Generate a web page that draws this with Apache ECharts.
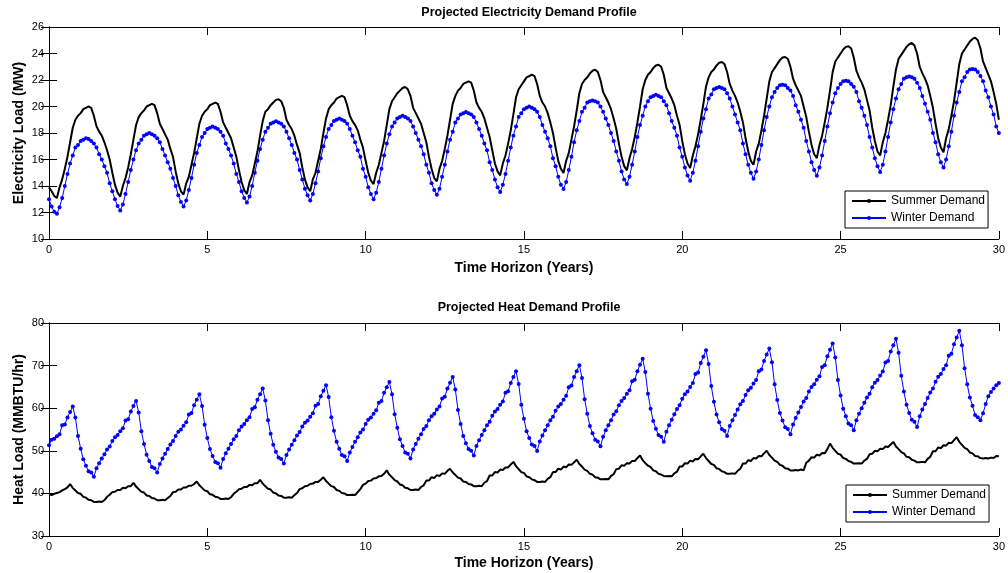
<!DOCTYPE html>
<html>
<head>
<meta charset="utf-8">
<script src="https://cdn.jsdelivr.net/npm/echarts@6/dist/echarts.min.js"></script>
<style>
html,body{margin:0;padding:0;background:#fff;}
#chart{width:1008px;height:573px;}
</style>
</head>
<body>
<div id="chart"></div>
<script>
// Monthly samples, 0 .. 30 years (361 points each)
const monthsPerYear = 12;

const elecSummer = [
13.9,13.6,13.25,
13.1,13.9,14.5,15.3,16.2,17.3,18.4,19.0,19.3,19.5,19.8,19.9,20.0,19.9,19.3,18.5,18.1,17.8,17.3,16.7,16.0,15.0,14.1,13.5,
13.2,14.0,14.6,15.4,16.4,17.5,18.6,19.2,19.5,19.7,20.0,20.1,20.2,20.1,19.5,18.7,18.3,17.9,17.5,16.8,16.2,15.1,14.2,13.6,
13.35,14.2,14.7,15.6,16.5,17.6,18.7,19.3,19.6,19.8,20.1,20.2,20.3,20.2,19.6,18.8,18.4,18.0,17.6,16.9,16.2,15.2,14.3,13.7,
13.4,14.3,14.8,15.7,16.6,17.8,18.9,19.6,19.8,20.1,20.3,20.5,20.55,20.4,19.9,19.0,18.6,18.3,17.8,17.1,16.5,15.4,14.5,13.9,
13.6,14.5,15.0,15.9,16.8,18.0,19.1,19.8,20.1,20.3,20.6,20.7,20.8,20.7,20.1,19.3,18.9,18.6,18.2,17.5,16.9,15.9,15.0,14.4,
14.15,15.0,15.6,16.5,17.4,18.6,19.8,20.4,20.7,21.0,21.2,21.4,21.47,21.3,20.8,19.9,19.5,19.1,18.7,18.0,17.3,16.2,15.3,14.6,
14.35,15.3,15.9,16.8,17.8,19.0,20.2,20.8,21.2,21.4,21.7,21.8,21.9,21.8,21.2,20.3,19.9,19.6,19.1,18.4,17.7,16.7,15.7,15.1,
14.8,15.7,16.3,17.2,18.2,19.4,20.7,21.3,21.6,21.9,22.2,22.3,22.4,22.3,21.7,20.8,20.3,20.0,19.5,18.8,18.0,16.9,15.9,15.3,
14.98,15.9,16.5,17.5,18.5,19.7,21.0,21.7,22.0,22.2,22.5,22.7,22.78,22.6,22.0,21.1,20.7,20.3,19.8,19.1,18.3,17.2,16.2,15.5,
15.18,16.1,16.8,17.7,18.8,20.0,21.3,22.0,22.4,22.6,22.9,23.1,23.15,23.0,22.4,21.4,21.0,20.6,20.1,19.3,18.6,17.4,16.4,15.7,
15.36,16.3,17.0,17.9,19.0,20.2,21.5,22.2,22.6,22.8,23.1,23.3,23.36,23.2,22.6,21.7,21.2,20.8,20.3,19.6,18.8,17.6,16.6,15.9,
15.6,16.6,17.2,18.2,19.3,20.6,21.9,22.6,22.9,23.2,23.5,23.7,23.74,23.6,23.0,22.1,21.6,21.2,20.8,20.0,19.2,18.1,17.1,16.4,
16.1,17.1,17.8,18.8,19.9,21.2,22.6,23.4,23.7,24.0,24.3,24.5,24.54,24.4,23.7,22.7,22.2,21.8,21.3,20.5,19.7,18.4,17.4,16.6,
16.3,17.3,18.0,19.0,20.1,21.5,22.8,23.6,23.9,24.2,24.5,24.7,24.79,24.6,24.0,23.0,22.5,22.1,21.6,20.8,19.9,18.7,17.6,16.9,
16.54,17.6,18.3,19.3,20.4,21.8,23.2,24.0,24.3,24.6,24.9,25.1,25.2,25.0,24.4,23.4,22.9,22.4,21.9,21.1,20.2,19.0
];

const elecWinter = [
13.0,12.45,12.05,
11.9,12.4,13.1,14.0,14.9,15.7,16.3,16.9,17.1,17.4,17.5,17.6,17.55,17.4,17.2,16.9,16.4,16.0,15.5,15.0,14.2,13.6,13.0,12.5,
12.15,12.6,13.4,14.3,15.2,16.0,16.7,17.2,17.5,17.8,17.9,18.0,17.9,17.8,17.6,17.3,16.8,16.3,15.8,15.3,14.6,14.0,13.3,12.8,
12.46,12.9,13.7,14.6,15.6,16.5,17.1,17.7,18.0,18.3,18.4,18.5,18.4,18.3,18.1,17.8,17.2,16.8,16.3,15.7,14.9,14.3,13.6,13.1,
12.76,13.2,14.0,15.0,15.9,16.8,17.5,18.1,18.4,18.7,18.8,18.88,18.8,18.7,18.5,18.1,17.6,17.1,16.5,16.0,15.2,14.5,13.8,13.3,
12.9,13.4,14.2,15.1,16.1,17.0,17.7,18.3,18.6,18.9,19.0,19.1,19.0,18.9,18.7,18.3,17.8,17.3,16.7,16.2,15.3,14.7,13.9,13.4,
13.0,13.5,14.3,15.3,16.3,17.2,17.9,18.5,18.8,19.1,19.2,19.3,19.2,19.1,18.9,18.5,18.0,17.5,17.0,16.4,15.6,15.0,14.2,13.7,
13.34,13.8,14.7,15.6,16.6,17.5,18.1,18.8,19.1,19.4,19.5,19.58,19.5,19.4,19.2,18.8,18.3,17.8,17.2,16.7,15.8,15.2,14.5,13.9,
13.55,14.1,14.9,15.9,16.9,17.8,18.5,19.2,19.5,19.8,19.9,20.0,19.9,19.8,19.6,19.2,18.6,18.1,17.6,17.0,16.1,15.5,14.7,14.1,
13.77,14.3,15.2,16.2,17.3,18.2,18.9,19.6,19.9,20.3,20.4,20.46,20.4,20.3,20.0,19.6,19.1,18.6,18.0,17.4,16.6,15.9,15.1,14.5,
14.15,14.7,15.6,16.6,17.7,18.6,19.3,20.0,20.4,20.7,20.8,20.89,20.8,20.7,20.4,20.1,19.5,18.9,18.4,17.8,16.9,16.2,15.4,14.8,
14.4,15.0,15.9,17.0,18.1,19.1,19.8,20.6,20.9,21.3,21.4,21.47,21.4,21.3,21.0,20.6,20.0,19.4,18.8,18.2,17.2,16.4,15.6,15.0,
14.55,15.1,16.0,17.1,18.2,19.2,20.0,20.7,21.1,21.4,21.6,21.64,21.6,21.4,21.2,20.8,20.1,19.6,19.0,18.4,17.4,16.6,15.8,15.2,
14.78,15.4,16.3,17.4,18.5,19.5,20.3,21.0,21.4,21.7,21.9,21.95,21.9,21.7,21.5,21.1,20.4,19.9,19.3,18.6,17.7,16.9,16.1,15.5,
15.06,15.6,16.6,17.7,18.8,19.8,20.6,21.3,21.7,22.1,22.2,22.27,22.2,22.1,21.8,21.4,20.8,20.2,19.6,19.0,18.0,17.3,16.4,15.8,
15.4,16.0,17.0,18.1,19.3,20.3,21.1,21.9,22.2,22.6,22.8,22.83,22.8,22.6,22.3,21.9,21.2,20.7,20.0,19.4,18.5,18.0
];

const heatSummer = [
39.8,39.6,39.9,40.1,40.3,40.7,41.0,41.4,
42.2,41.3,40.7,40.1,39.9,39.2,39.0,38.5,38.4,38.0,38.0,38.1,38.0,38.4,39.2,39.7,40.3,40.4,40.8,40.8,41.3,41.2,41.7,41.7,
42.5,41.6,41.0,40.4,40.2,39.5,39.4,38.9,38.8,38.4,38.4,38.5,38.4,38.9,39.4,40.3,40.4,40.9,40.9,41.4,41.4,41.8,41.8,42.2,
42.8,41.9,41.3,40.7,40.5,39.8,39.7,39.2,39.1,38.7,38.7,38.8,38.7,39.1,39.9,40.4,41.0,41.1,41.5,41.5,42.0,41.9,42.4,42.4,
43.2,42.3,41.7,41.1,40.9,40.2,40.0,39.5,39.4,39.0,39.0,39.1,39.0,39.6,40.1,41.0,41.2,41.7,41.8,42.2,42.3,42.7,42.7,43.2,
43.8,42.9,42.3,41.7,41.5,40.8,40.6,40.1,40.0,39.6,39.6,39.7,39.6,40.3,41.0,42.0,42.3,42.9,43.0,43.5,43.6,44.0,44.1,44.6,
45.4,44.4,43.8,43.1,42.8,42.1,41.9,41.3,41.2,40.8,40.8,40.9,40.8,41.5,41.9,43.0,43.0,43.8,43.6,44.3,44.1,44.7,44.6,45.3,
45.8,44.9,44.3,43.7,43.5,42.8,42.7,42.2,42.1,41.7,41.7,41.8,41.7,42.5,42.9,44.2,44.2,45.0,44.9,45.6,45.5,46.1,46.1,46.8,
47.4,46.4,45.7,45.0,44.8,44.0,43.8,43.3,43.1,42.7,42.7,42.8,42.7,43.4,43.8,45.0,45.0,45.8,45.6,46.3,46.1,46.8,46.7,47.3,
47.9,46.9,46.3,45.6,45.3,44.6,44.4,43.8,43.7,43.3,43.3,43.4,43.3,44.1,44.5,45.7,45.8,46.6,46.5,47.1,47.0,47.6,47.6,48.3,
48.9,47.8,47.1,46.5,46.2,45.4,45.2,44.6,44.4,44.1,44.0,44.1,44.0,44.7,45.1,46.3,46.3,47.1,47.0,47.7,47.5,48.1,48.0,48.7,
49.3,48.3,47.6,46.9,46.7,45.9,45.7,45.2,45.0,44.6,44.6,44.7,44.6,45.3,45.8,47.0,47.0,47.8,47.6,48.3,48.2,48.8,48.7,49.4,
50.0,49.0,48.4,47.7,47.4,46.7,46.5,45.9,45.8,45.4,45.4,45.5,45.4,45.6,45.4,47.2,47.7,48.5,48.4,49.1,48.9,49.5,49.4,50.4,
51.7,50.7,50.0,49.3,49.1,48.3,48.1,47.6,47.4,47.0,47.0,47.1,47.0,47.7,48.1,49.2,49.3,50.0,49.9,50.5,50.4,51.0,50.9,51.5,
52.1,51.0,50.4,49.7,49.4,48.6,48.5,47.9,47.7,47.3,47.3,47.4,47.3,48.1,48.6,49.9,49.9,50.8,50.6,51.3,51.2,51.9,51.8,52.5,
53.2,52.1,51.4,50.7,50.4,49.6,49.4,48.8,48.7,48.3,48.2,48.3,48.2,48.4,48.3,48.8,48.7
];

const heatWinter = [
51.3,52.6,52.8,53.4,53.9,56.0,56.2,57.8,59.1,
60.4,57.8,53.5,50.5,48.0,46.5,45.2,44.9,43.9,45.9,47.1,48.2,49.2,50.3,51.0,52.3,53.2,53.7,54.6,55.3,57.1,57.4,59.2,60.5,
61.7,59.0,54.6,51.6,49.1,47.6,46.2,45.9,44.9,46.9,48.2,49.3,50.4,51.5,52.3,53.5,54.5,55.0,55.9,56.7,58.5,58.9,60.7,62.0,
63.3,60.5,56.1,53.0,50.4,48.8,47.4,47.1,46.05,48.1,49.4,50.5,51.6,52.7,53.5,54.8,55.7,56.3,57.2,57.9,59.8,60.2,62.0,63.3,
64.6,61.8,57.2,54.0,51.4,49.8,48.4,48.1,47.0,49.0,50.3,51.4,52.5,53.6,54.4,55.7,56.6,57.1,58.0,58.8,60.6,61.0,62.8,64.1,
65.4,62.6,57.9,54.7,52.1,50.5,49.0,48.7,47.6,49.6,50.9,52.1,53.2,54.3,55.0,56.3,57.3,57.8,58.7,59.5,61.3,61.7,63.6,64.9,
66.15,63.3,58.6,55.4,52.7,51.1,49.6,49.3,48.2,50.3,51.6,52.8,53.9,55.1,55.8,57.2,58.1,58.7,59.7,60.4,62.3,62.7,64.6,66.0,
67.3,64.4,59.6,56.3,53.5,51.8,50.4,50.0,48.9,51.1,52.5,53.7,54.8,56.0,56.8,58.2,59.2,59.8,60.8,61.6,63.6,64.0,65.9,67.3,
68.7,65.7,60.8,57.5,54.6,53.0,51.5,51.1,49.95,52.2,53.6,54.8,56.0,57.2,58.0,59.4,60.4,61.0,62.0,62.9,64.9,65.3,67.3,68.7,
70.1,67.1,62.1,58.7,55.8,54.1,52.6,52.2,51.05,53.3,54.8,56.0,57.2,58.5,59.3,60.7,61.7,62.4,63.4,64.2,66.3,66.7,68.7,70.2,
71.6,68.5,63.4,59.9,57.0,55.2,53.7,53.3,52.1,54.5,56.0,57.3,58.6,59.8,60.7,62.2,63.3,63.9,65.0,65.9,68.0,68.4,70.6,72.1,
73.6,70.4,65.2,61.5,58.5,56.7,55.1,54.7,53.5,55.8,57.2,58.4,59.7,60.9,61.7,63.1,64.2,64.8,65.8,66.6,68.7,69.1,71.1,72.6,
74.0,70.8,65.6,61.9,58.9,57.1,55.5,55.1,53.9,56.2,57.7,59.0,60.3,61.6,62.4,63.9,65.0,65.6,66.7,67.5,69.7,70.1,72.2,73.7,
75.2,71.9,66.6,63.0,59.9,58.1,56.4,56.0,54.8,57.2,58.7,60.0,61.3,62.5,63.4,64.9,66.0,66.6,67.7,68.6,70.7,71.1,73.3,74.8,
76.3,73.0,67.6,63.9,60.8,58.9,57.3,56.8,55.6,58.1,59.7,61.0,62.4,63.7,64.6,66.2,67.4,68.0,69.2,70.1,72.3,72.8,75.0,76.6,
78.2,74.8,69.4,65.6,62.5,60.6,58.4,57.9,57.2,58.8,61.0,62.8,63.8,64.6,65.4,65.9
];

const xTicks = { min: 0, max: 30, interval: 5 };
const elecTicks = { min: 10, max: 26, interval: 2 };
const heatTicks = { min: 30, max: 80, interval: 10 };
const titles = ['Projected Electricity Demand Profile', 'Projected Heat Demand Profile'];
const xName = 'Time Horizon (Years)';
const yNames = ['Electricity Load (MW)', 'Heat Load (MMBTU/hr)'];
const seriesNames = ['Summer Demand', 'Winter Demand'];

function toXY(arr) { return arr.map((v, i) => [i / monthsPerYear, v]); }

const FONT = 'Liberation Sans, Arial, sans-serif';
const tickStyle = { inside: true, length: 8, lineStyle: { color: '#000', width: 1 } };
const lineStyleAx = { lineStyle: { color: '#000', width: 1 } };

function xAxes(g, gap) {
  return [
    { gridIndex: g, type: 'value', position: 'bottom', min: xTicks.min, max: xTicks.max, interval: xTicks.interval,
      axisLine: lineStyleAx, axisTick: tickStyle, splitLine: { show: false },
      axisLabel: { color: '#000', fontSize: 11, fontFamily: FONT, margin: 5 },
      name: xName, nameLocation: 'middle', nameGap: gap,
      nameTextStyle: { color: '#000', fontSize: 14, fontWeight: 'bold', fontFamily: FONT } },
    { gridIndex: g, type: 'value', position: 'top', min: xTicks.min, max: xTicks.max, interval: xTicks.interval,
      axisLine: lineStyleAx, axisTick: tickStyle, splitLine: { show: false }, axisLabel: { show: false } }
  ];
}
function yAxes(g, t, name) {
  return [
    { gridIndex: g, type: 'value', position: 'left', min: t.min, max: t.max, interval: t.interval,
      axisLine: lineStyleAx, axisTick: tickStyle, splitLine: { show: false },
      axisLabel: { color: '#000', fontSize: 11, fontFamily: FONT, margin: 5 },
      name: name, nameLocation: 'middle', nameGap: 23, nameRotate: 90, nameMoveOverlap: false,
      nameTextStyle: { color: '#000', fontSize: 14, fontWeight: 'bold', fontFamily: FONT } },
    { gridIndex: g, type: 'value', position: 'right', min: t.min, max: t.max, interval: t.interval,
      axisLine: lineStyleAx, axisTick: tickStyle, splitLine: { show: false }, axisLabel: { show: false } }
  ];
}

function summer(data, xi, yi) {
  return { name: seriesNames[0], type: 'line', xAxisIndex: xi, yAxisIndex: yi, data: toXY(data),
    symbol: 'none', lineStyle: { color: '#000', width: 2 }, itemStyle: { color: '#000' }, animation: false, z: 3 };
}
function winter(data, xi, yi) {
  return { name: seriesNames[1], type: 'line', xAxisIndex: xi, yAxisIndex: yi, data: toXY(data),
    symbol: 'circle', symbolSize: 4, showAllSymbol: true,
    lineStyle: { color: '#0000ff', width: 1 }, itemStyle: { color: '#0000ff' }, animation: false, z: 2 };
}

const legendBase = {
  orient: 'vertical', itemWidth: 34, itemHeight: 5, itemGap: 3,
  borderColor: '#000', borderWidth: 1, borderRadius: 0, padding: [3, 3, 3, 6],
  backgroundColor: '#fff',
  textStyle: { color: '#000', fontSize: 12, fontFamily: FONT, lineHeight: 14 },
  data: seriesNames
};

const chart = echarts.init(document.getElementById('chart'), null, { renderer: 'canvas' });
chart.setOption({
  animation: false,
  backgroundColor: '#fff',
  title: [
    { text: titles[0], left: 524, top: 1, textAlign: 'center',
      textStyle: { color: '#000', fontSize: 12.5, fontWeight: 'bold', fontFamily: FONT } },
    { text: titles[1], left: 524, top: 296, textAlign: 'center',
      textStyle: { color: '#000', fontSize: 12.5, fontWeight: 'bold', fontFamily: FONT } }
  ],
  grid: [
    { left: 49, top: 27, width: 951, height: 212 },
    { left: 49, top: 323, width: 951, height: 213 }
  ],
  xAxis: [...xAxes(0, 22), ...xAxes(1, 20)],
  yAxis: [...yAxes(0, elecTicks, yNames[0]), ...yAxes(1, heatTicks, yNames[1])],
  legend: [
    Object.assign({}, legendBase, { left: 845, top: 191 }),
    Object.assign({}, legendBase, { left: 846, top: 485 })
  ],
  series: [
    summer(elecSummer, 0, 0), winter(elecWinter, 0, 0),
    summer(heatSummer, 2, 2), winter(heatWinter, 2, 2)
  ]
});
</script>
</body>
</html>
